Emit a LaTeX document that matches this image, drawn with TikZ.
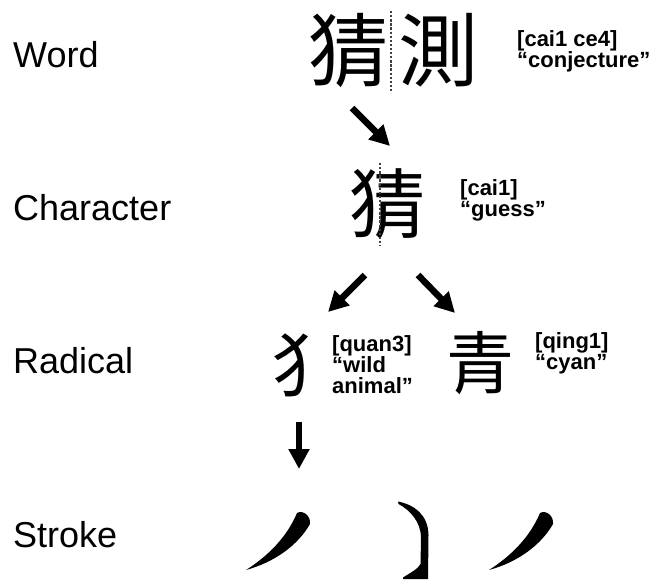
\documentclass[tikz,border=0pt]{standalone}
\usepackage{fontspec}
\setmainfont{Liberation Sans}
\newfontfamily\cjk{Noto Sans CJK TC}
\usetikzlibrary{arrows.meta}
\begin{document}
\begin{tikzpicture}[x=1pt,y=-1pt,
  level/.style={font=\fontsize{36}{40}\selectfont, anchor=base west, inner sep=0pt},
  gloss/.style={font=\bfseries\fontsize{22}{21}\selectfont, align=left, anchor=base west, inner sep=0pt},
  hanzi/.style={font=\cjk\fontsize{#1}{#1}\selectfont, anchor=base, inner sep=0pt},
  bigarrow/.style={line width=6.5pt, -{Triangle[width=20pt,length=20pt]}},
  sepline/.style={draw=black!75, line width=2.5pt, dash pattern=on 2.3pt off 1.8pt},
  strokeshape/.style={fill=black}]
\useasboundingbox (0,0) rectangle (655,579);

% level labels
\node[level] (lword) at (13,67) {Word};
\node[level] (lchar) at (13,220) {Character};
\node[level] (lrad) at (13,373) {Radical};
\node[level] (lstroke) at (13,547) {Stroke};

% word level
\node[hanzi=80] (w1) at (348.5,80) {猜};
\node[hanzi=80] (w2) at (438.5,80) {測};
\coordinate (d1t) at (391,11);
\coordinate (d1b) at (391,93);
\draw[sepline] (d1t) -- (d1b);
\node[gloss] (gword) at (517,67) {[cai1 ce4]\\“conjecture”};

% character level
\node[hanzi=76] (c1) at (387.5,232) {猜};
\coordinate (d2t) at (380,163);
\coordinate (d2b) at (380,246);
\draw[sepline] (d2t) -- (d2b);
\node[gloss] (gchar) at (460,216) {[cai1]\\“guess”};

% radical level
\node[hanzi=70] (r1) at (306,391) {犭};
\node[hanzi=68] (r2) at (480.5,388.5) {青};
\node[gloss] (grad1) at (332,393) {[quan3]\\“wild\\animal”};
\node[gloss] (grad2) at (535,369) {[qing1]\\“cyan”};

% arrows
\coordinate (a1s) at (352,108);
\coordinate (a1e) at (390,146);
\coordinate (a2s) at (365,275);
\coordinate (a2e) at (328,312);
\coordinate (a3s) at (418,275);
\coordinate (a3e) at (455,313);
\coordinate (a4s) at (299,422);
\coordinate (a4e) at (299,469);
\draw[bigarrow] (a1s) -- (a1e);
\draw[bigarrow] (a2s) -- (a2e);
\draw[bigarrow] (a3s) -- (a3e);
\draw[bigarrow] (a4s) -- (a4e);

% strokes
\fill[strokeshape] (297,513) .. controls (303,509.5) and (311,516) .. (310,524)
  .. controls (298,545) and (275,562) .. (246,570)
  .. controls (268,556) and (287,537) .. (297,513) -- cycle;
\fill[strokeshape] (398,501.5) .. controls (415,505) and (428,515) .. (428.5,535)
  -- (428,579) -- (403,579) -- (403,577.5)
  .. controls (410,573) and (418,569) .. (420.5,564) -- (421,538)
  .. controls (421,522) and (410,510) .. (398.5,504) -- cycle;
\fill[strokeshape] (540,513) .. controls (546,509.5) and (554,516) .. (553,524)
  .. controls (541,545) and (518,562) .. (489,570)
  .. controls (511,556) and (530,537) .. (540,513) -- cycle;
\end{tikzpicture}
\end{document}
